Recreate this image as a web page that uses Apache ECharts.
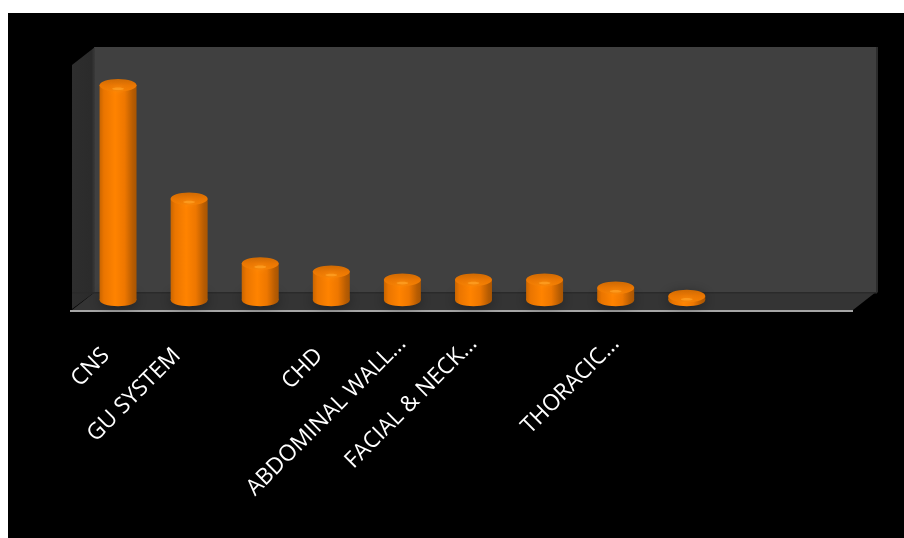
<!DOCTYPE html>
<html>
<head>
<meta charset="utf-8">
<style>
  html, body { margin: 0; padding: 0; background: #fff; }
  #chart { position: absolute; left: 8px; top: 13px; width: 896px; height: 525px; }
</style>
<script src="https://cdn.jsdelivr.net/npm/echarts@6/dist/echarts.min.js"></script>
</head>
<body>
<div id="chart"></div>
<script>
// Anomaly groups along the category axis; unnamed slots are left blank on the axis.
const categories = ['CNS', 'GU SYSTEM', ' ', 'CHD', 'ABDOMINAL WALL...', 'FACIAL & NECK...', '  ', 'THORACIC...', '   ', '    ', '     '];
const cases = [27, 13, 5, 4, 3, 3, 3, 2, 1, null, null];

const chart = echarts.init(document.getElementById('chart'), null, { renderer: 'canvas' });

// Chart box offset inside the page.
const ox = 8, oy = 13;
const pts = list => list.map(p => [p[0] - ox, p[1] - oy]);

function poly(points, fill, z) {
  return { type: 'polygon', silent: true, z: z, shape: { points: pts(points) }, style: { fill: fill } };
}

const hGrad = stops => new echarts.graphic.LinearGradient(0, 0, 1, 0, stops);
const vGrad = stops => new echarts.graphic.LinearGradient(0, 0, 0, 1, stops);

// Room behind the columns: back wall, side wall, floor and front edge.
const room = [
  poly([[876, 47], [878, 47], [878, 292], [876, 294]], '#2c2c2c', -5),
  poly([[94, 47], [876, 47], [876, 292], [94, 292]], '#404040', -5),
  poly([[72, 65], [95, 47], [95, 292], [72, 309]], hGrad([
    { offset: 0, color: '#2e2e2e' }, { offset: 0.85, color: '#2b2b2b' }, { offset: 1, color: '#3a3a3a' }
  ]), -5),
  poly([[95, 292], [876, 292], [853, 310], [72, 310]], '#343434', -5),
  poly([[72, 292], [876, 292], [876, 293.5], [72, 293.5]], '#2a2a2a', -4),
  poly([[70, 310], [853, 310], [853, 312], [70, 312]], '#a6a6a6', -3)
];

// One cylinder: base ellipse, shaded body, top cap and a small highlight on the cap's front rim.
function renderColumn(params, api) {
  const value = api.value(1);
  if (value == null || isNaN(value)) return null;
  const top = api.coord([api.value(0), value]);
  const zero = api.coord([api.value(0), 0]);
  const halfW = api.size([1, 0])[0] * 0.26;
  const ry = 6.2;
  const cx = top[0];
  const topY = top[1];
  const baseY = zero[1] - 4;
  const bodyFill = hGrad([
    { offset: 0, color: '#c96500' },
    { offset: 0.12, color: '#ea7500' },
    { offset: 0.42, color: '#ff8300' },
    { offset: 0.68, color: '#ee7700' },
    { offset: 0.9, color: '#b75c02' },
    { offset: 1, color: '#a85503' }
  ]);
  const capFill = vGrad([
    { offset: 0, color: '#cf6a03' },
    { offset: 0.5, color: '#e97602' },
    { offset: 1, color: '#f58003' }
  ]);
  return {
    type: 'group',
    children: [
      { type: 'ellipse', shape: { cx: cx, cy: baseY, rx: halfW, ry: ry },
        style: { fill: bodyFill, shadowBlur: 14, shadowColor: 'rgba(0,0,0,0.55)' } },
      { type: 'rect', shape: { x: cx - halfW, y: topY, width: halfW * 2, height: Math.max(baseY - topY, 0) },
        style: { fill: bodyFill } },
      { type: 'ellipse', shape: { cx: cx, cy: topY, rx: halfW, ry: ry },
        style: { fill: capFill } },
      { type: 'ellipse', shape: { cx: cx, cy: topY + ry * 0.55, rx: halfW * 0.32, ry: 1.3 },
        style: { fill: '#ffa024', opacity: 0.75, shadowBlur: 5, shadowColor: '#ff9a18' } }
    ]
  };
}

// Shorter names sit a little further down-left along the rotated baseline than the clipped ones.
const clippedName = name => name.endsWith('...');

chart.setOption({
  animation: false,
  backgroundColor: '#000',
  graphic: { elements: room },
  grid: { left: 74.5, top: 48, width: 782, height: 243, containLabel: false },
  xAxis: {
    type: 'category',
    data: categories,
    axisLine: { show: false },
    axisTick: { show: false },
    axisLabel: {
      interval: 0,
      rotate: 45,
      margin: 36,
      color: '#fff',
      fontFamily: '"Open Sans", sans-serif',
      fontSize: 22.6,
      formatter: name => clippedName(name) ? '{long|' + name + '}' : '{short|' + name + '}',
      rich: {
        long: { color: '#fff', fontFamily: '"Open Sans", sans-serif', fontSize: 22.6, padding: [0, 0, 0, 0] },
        short: { color: '#fff', fontFamily: '"Open Sans", sans-serif', fontSize: 22.6, padding: [0, 17, 0, 0] }
      }
    }
  },
  yAxis: { type: 'value', min: 0, max: 30, show: false, splitLine: { show: false } },
  series: [{
    type: 'custom',
    coordinateSystem: 'cartesian2d',
    renderItem: renderColumn,
    encode: { x: 0, y: 1 },
    data: categories.map((c, i) => [i, cases[i]])
  }]
});
</script>
</body>
</html>
